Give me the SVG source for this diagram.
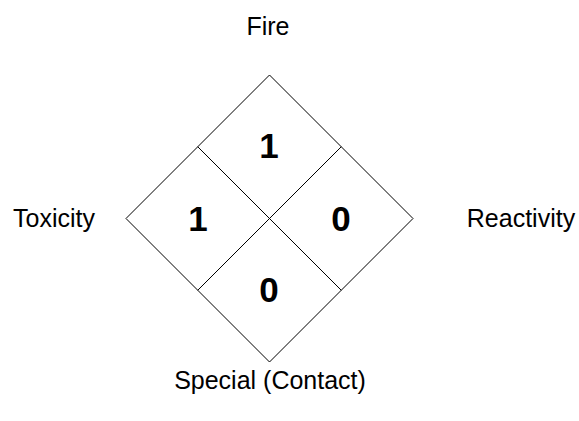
<svg xmlns="http://www.w3.org/2000/svg" width="579" height="421" viewBox="0 0 579 421">
<style>
.edge{fill:none;stroke:#000;stroke-width:1}
.lbl{font-family:"Liberation Sans",Arial,sans-serif;font-size:25px;fill:#000;text-anchor:middle}
.num{font-family:"Liberation Sans",Arial,sans-serif;font-size:35px;font-weight:bold;fill:#000;text-anchor:middle}
</style>
<rect width="579" height="421" fill="#fff"/>
<g id="diamond">
<polygon class="edge" points="269.5,75 413,218.5 269.5,362 126,218.5"/>
</g>
<g id="connectors">
<line class="edge" x1="197.75" y1="146.75" x2="341.25" y2="290.25"/>
<line class="edge" x1="341.25" y1="146.75" x2="197.75" y2="290.25"/>
</g>
<g id="fire"><text class="num" x="269" y="158">1</text><text class="lbl" x="268" y="35">Fire</text></g>
<g id="toxicity"><text class="num" x="198" y="231">1</text><text class="lbl" x="54" y="227">Toxicity</text></g>
<g id="reactivity"><text class="num" x="341" y="231">0</text><text class="lbl" x="521" y="227">Reactivity</text></g>
<g id="special"><text class="num" x="269" y="302">0</text><text class="lbl" x="270" y="389">Special (Contact)</text></g>
</svg>
